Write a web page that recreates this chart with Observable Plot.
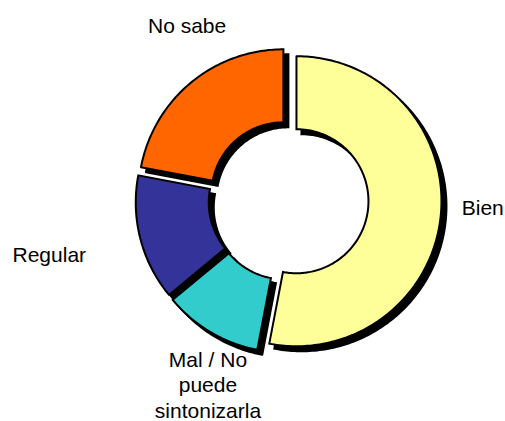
<!DOCTYPE html>
<html><head><meta charset="utf-8">
<script src="https://cdn.jsdelivr.net/npm/d3@7"></script>
<script src="https://cdn.jsdelivr.net/npm/@observablehq/plot@0.6"></script>
<style>html,body{margin:0;padding:0;background:#fff;} #chart svg{display:block;}</style>
</head><body><div id="chart"></div>
<script>
const categories = ["Bien", "Mal / No puede sintonizarla", "Regular", "No sabe"];
const labels = ["Bien", "Mal / No\npuede\nsintonizarla", "Regular", "No sabe"];
const values = [53, 11, 14, 22];

const W = 505, H = 421, cx = 288, cy = 200, rOuter = 145, rInner = 72, explode = 8;
const pie = d3.pie().sort(null).value(d => d.value);
const slices = pie(categories.map((c, i) => ({category: c, value: values[i], label: labels[i]})));

const pts = [];
for (const s of slices) {
  const mid = (s.startAngle + s.endAngle) / 2;
  const ox = cx + explode * Math.sin(mid), oy = cy - explode * Math.cos(mid);
  const n = Math.max(2, Math.ceil((s.endAngle - s.startAngle) / (Math.PI / 180)));
  const ring = [];
  for (let k = 0; k <= n; k++) {
    const a = s.startAngle + (s.endAngle - s.startAngle) * k / n;
    ring.push([ox + rOuter * Math.sin(a), oy - rOuter * Math.cos(a)]);
  }
  for (let k = n; k >= 0; k--) {
    const a = s.startAngle + (s.endAngle - s.startAngle) * k / n;
    ring.push([ox + rInner * Math.sin(a), oy - rInner * Math.cos(a)]);
  }
  ring.push(ring[0]);
  ring.forEach(([x, y], j) => pts.push({category: s.data.category, x, y, j}));
}

// label placement: along slice bisector, with per-label anchoring
const labelLayout = {
  "Bien": {r: 174, textAnchor: "start", lineAnchor: "middle", dx: 0, dy: -10},
  "Mal / No puede sintonizarla": {r: 170, textAnchor: "middle", lineAnchor: "top", dx: 6, dy: 2},
  "Regular": {r: 209, textAnchor: "end", lineAnchor: "middle", dx: 0, dy: 1},
  "No sabe": {r: 203, textAnchor: "middle", lineAnchor: "middle", dx: 28, dy: -19}
};
const textMarks = slices.map(s => {
  const L = labelLayout[s.data.category];
  const mid = (s.startAngle + s.endAngle) / 2;
  const d = [{x: cx + L.r * Math.sin(mid), y: cy - L.r * Math.cos(mid), label: s.data.label}];
  return Plot.text(d, {
    x: "x", y: "y", text: "label",
    textAnchor: L.textAnchor, lineAnchor: L.lineAnchor, dx: L.dx, dy: L.dy,
    fontSize: 21, lineHeight: 1.21, fill: "black",
    fontFamily: "'Liberation Sans', Arial, sans-serif"
  });
});

const chart = Plot.plot({
  width: W, height: H,
  margin: 0,
  style: {background: "#fff", overflow: "visible"},
  x: {domain: [0, W], axis: null},
  y: {domain: [H, 0], axis: null},
  color: {domain: categories, range: ["#FFFF99", "#33CCCC", "#333399", "#FF6600"]},
  marks: [
    Plot.line(pts, {x: "x", y: "y", z: "category", fill: "black", stroke: "black",
      strokeWidth: 2, strokeLinejoin: "miter", strokeMiterlimit: 4, dx: 5, dy: 5, curve: "linear"}),
    Plot.line(pts, {x: "x", y: "y", z: "category", fill: "category", stroke: "black",
      strokeWidth: 2, strokeLinejoin: "miter", strokeMiterlimit: 4, curve: "linear"}),
    ...textMarks
  ]
});
document.getElementById("chart").appendChild(chart);
</script>
</body></html>
